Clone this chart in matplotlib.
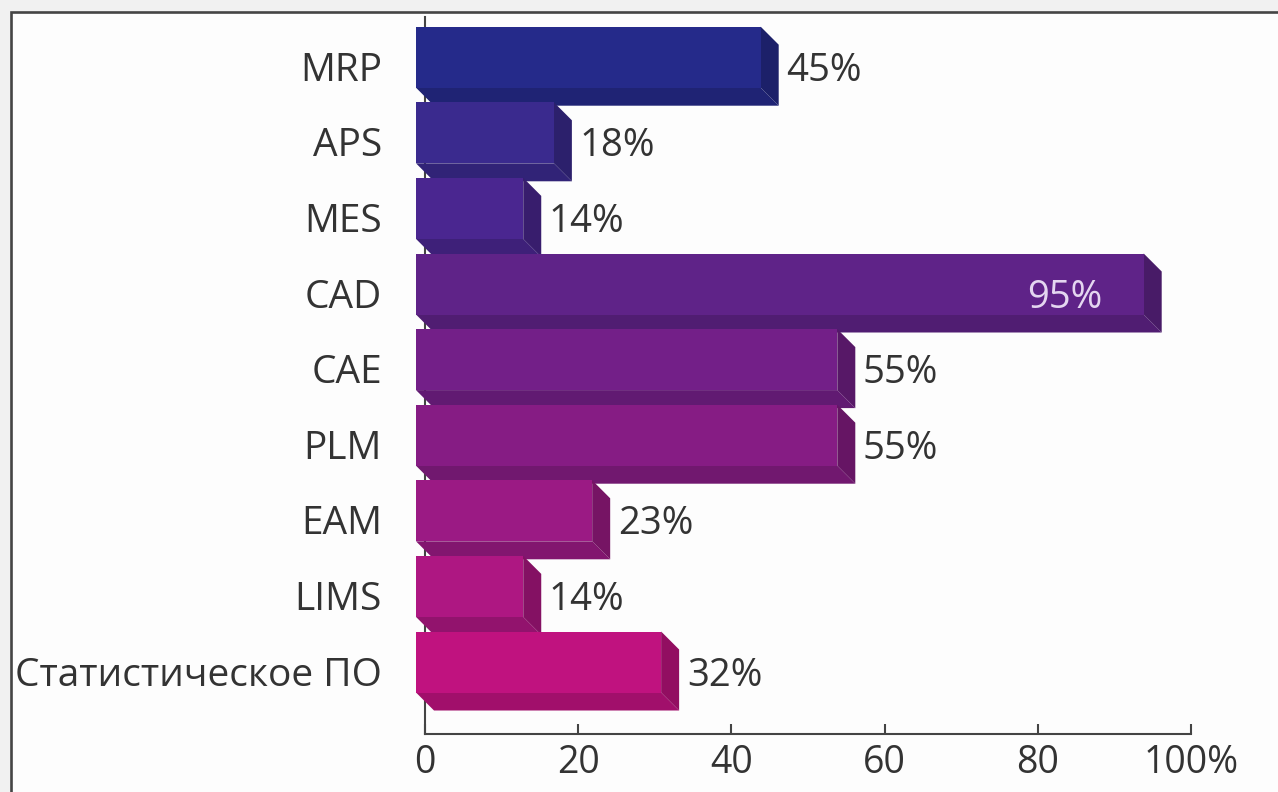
import matplotlib
matplotlib.use("Agg")
import matplotlib.pyplot as plt
from matplotlib.patches import Polygon, Rectangle
from matplotlib.colors import to_rgb

plt.rcParams['font.family'] = ['Open Sans', 'DejaVu Sans']

categories = ["MRP", "APS", "MES", "CAD", "CAE", "PLM", "EAM", "LIMS", "Статистическое ПО"]
values = [45, 18, 14, 95, 55, 55, 23, 14, 32]
bar_colors = ["#252a8a", "#3a2a8e", "#4a2690", "#5f2388", "#731f88",
              "#861c84", "#9b1a84", "#ae1782", "#c0127f"]
xticks = [0, 20, 40, 60, 80, 100]
xtick_labels = ["0", "20", "40", "60", "80", "100%"]

W, H = 1278, 792
fig = plt.figure(figsize=(W / 100, H / 100), dpi=100)
fig.patch.set_facecolor("#f1f1f1")
# white panel with dark frame line (left and top edges visible)
fig.add_artist(Rectangle((11 / W, -0.05), 1.1, (H - 12) / H + 0.05,
                         transform=fig.transFigure, facecolor="#fdfdfd",
                         edgecolor="#454545", linewidth=1.9, zorder=0))

# axes placement in pixels
left_px, right_px, top_px, bottom_px = 425, 1191, 17, 734
ax = fig.add_axes([left_px / W, (H - bottom_px) / H,
                   (right_px - left_px) / W, (bottom_px - top_px) / H])
ax.set_facecolor("none")

n = len(categories)
px_y = 75.6                    # pixels per category step
px_x = (right_px - left_px) / 100
y0 = -(bottom_px - 671) / px_y
ax.set_xlim(0, 100)
ax.set_ylim(y0, y0 + (bottom_px - top_px) / px_y)

depth = 18
hx = depth / 2 / px_x
dyv = depth / px_y
front_h = 61 / px_y
fs = 27


def darker(c, f):
    r, g, b = to_rgb(c)
    return (r * f, g * f, b * f)


for i, (cat, v, col) in enumerate(zip(categories, values, bar_colors)):
    c = n - 1 - i
    ft = c + 39.5 / px_y
    fb = ft - front_h
    bb = fb - dyv
    x0f, x1f = -hx, v - hx
    x0b, x1b = hx, v + hx
    z = 3 + i
    bottom = Polygon([(x0f, fb), (x1f, fb), (x1b, bb), (x0b, bb)],
                     closed=True, facecolor=darker(col, 0.84), edgecolor="none",
                     zorder=z, clip_on=False)
    side = Polygon([(x1f, ft), (x1b, ft - dyv), (x1b, bb), (x1f, fb)],
                   closed=True, facecolor=darker(col, 0.76), edgecolor="none",
                   zorder=z, clip_on=False)
    front = Polygon([(x0f, fb), (x1f, fb), (x1f, ft), (x0f, ft)],
                    closed=True, facecolor=col, edgecolor="none",
                    zorder=z, clip_on=False)
    for p in (bottom, side, front):
        ax.add_patch(p)

    label = f"{v}%"
    if v > 90:
        ax.annotate(label, xy=(v, c), xytext=(-36, 0), textcoords="offset points",
                    ha="right", va="center_baseline", fontsize=fs + 0.5, color="#e4d6f0",
                    zorder=z + 1)
    else:
        ax.annotate(label, xy=(v, c), xytext=(12, 0), textcoords="offset points",
                    ha="left", va="center_baseline", fontsize=fs + 0.5, color="#333333",
                    zorder=z + 1)

ax.set_yticks(list(range(n - 1, -1, -1)))
ax.set_yticklabels(categories, fontsize=fs + 1, color="#333333")
ax.tick_params(axis="y", length=0, pad=31)

ax.set_xticks(xticks)
ax.set_xticklabels(xtick_labels, fontsize=fs, color="#333333")
ax.tick_params(axis="x", direction="in", length=7, width=1.5, color="#444444", pad=7)

for s in ("top", "right"):
    ax.spines[s].set_visible(False)
for s in ("left", "bottom"):
    ax.spines[s].set_color("#444444")
    ax.spines[s].set_linewidth(1.5)

fig.savefig("out.png", dpi=100)
